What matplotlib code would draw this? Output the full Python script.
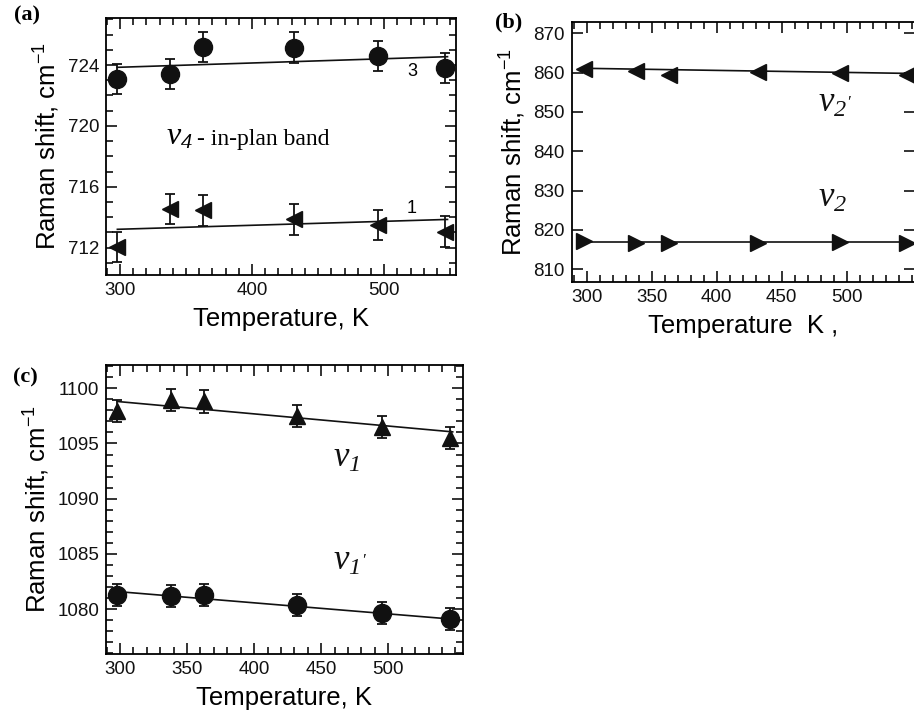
import numpy as np
import matplotlib
matplotlib.use("Agg")
import matplotlib.pyplot as plt
from matplotlib.ticker import MultipleLocator, FixedLocator

plt.rcParams['font.family'] = ['Liberation Sans', 'DejaVu Sans']
plt.rcParams['mathtext.default'] = 'regular'

# temperatures, K
T = [298, 338, 363, 432, 495, 546]

# (a) nu4 in-plane band
a_band3 = [723.1, 723.4, 725.2, 725.15, 724.6, 723.8]
a_band1 = [712.05, 714.55, 714.45, 713.85, 713.5, 713.05]
a_err = 1.0
a_line3 = [723.85, 724.55]
a_line1 = [713.2, 713.85]
line_T = [298, 548]

# (b) nu2 and nu2'
b_nu2p = [861.0, 860.5, 859.5, 860.1, 860.0, 859.3]
b_nu2 = [817.1, 816.8, 816.8, 816.8, 817.0, 816.8]
b_line2p = [861.1, 859.8]
b_line2 = [816.9, 816.9]

# (c) nu1 and nu1'
c_nu1 = [1097.9, 1098.9, 1098.8, 1097.5, 1096.5, 1095.5]
c_nu1p = [1081.3, 1081.2, 1081.3, 1080.4, 1079.7, 1079.1]
c_err = 1.0
c_line1 = [1098.8, 1096.05]
c_line1p = [1081.6, 1079.1]

xt_a = [300, 400, 500]
xt_bc = [300, 350, 400, 450, 500]

col = '#111111'

fig = plt.figure(figsize=(9.14, 7.16), dpi=100)
axa = fig.add_axes([0.116, 0.616, 0.383, 0.359])
axb = fig.add_axes([0.6255, 0.6066, 0.3756, 0.3631])
axc = fig.add_axes([0.116, 0.0866, 0.3903, 0.4036])


def style(ax):
    for s in ax.spines.values():
        s.set_linewidth(1.3)
    ax.tick_params(which='both', direction='in', top=True, right=True,
                   width=1.2, labelsize=13.5, pad=5, colors=col)
    ax.tick_params(which='major', length=8)
    ax.tick_params(which='minor', length=5)
    ax.set_ylabel('Raman shift, cm$^{-1}$', fontsize=18.5, labelpad=4)


eb = dict(ls='none', color=col, ecolor=col, elinewidth=1.3, capsize=3.5,
          capthick=1.3)
serif = ['Liberation Serif', 'DejaVu Serif']
vfont = dict(fontsize=25, va='baseline', color=col, family=serif,
             style='italic')

#%% (a)
axa.plot(line_T, a_line3, color=col, lw=1.2)
axa.plot(line_T, a_line1, color=col, lw=1.2)
axa.errorbar(T, a_band3, yerr=a_err, fmt='o', ms=13, **eb)
axa.errorbar(T, a_band1, yerr=a_err, fmt='<', ms=12, **eb)
axa.set_xlim(289.4, 554.5)
axa.set_ylim(710.2, 727.1)
axa.xaxis.set_major_locator(FixedLocator(xt_a))
axa.xaxis.set_minor_locator(MultipleLocator(10))
axa.yaxis.set_major_locator(MultipleLocator(4))
axa.yaxis.set_minor_locator(MultipleLocator(1))
style(axa)
axa.set_xlabel('Temperature, K', fontsize=18.5, labelpad=6)
axa.text(521, 723.55, '3', fontsize=13, ha='center', va='center')
axa.text(521, 714.6, '1', fontsize=13, ha='center', va='center')
axa.text(335, 718.75, r'$v_4$', fontsize=23, va='baseline', family=serif,
         style='italic')
axa.text(358, 718.75, '- in-plan band', fontsize=17, va='baseline',
         family=serif)

#%% (b)
axb.plot(line_T, b_line2p, color=col, lw=1.2)
axb.plot(line_T, b_line2, color=col, lw=1.2)
axb.plot(T, b_nu2p, '<', ms=12, color=col, clip_on=False)
axb.plot(T, b_nu2, '>', ms=12, color=col, clip_on=False)
axb.set_xlim(288.5, 552.5)
axb.set_ylim(806.85, 872.95)
axb.xaxis.set_major_locator(FixedLocator(xt_bc))
axb.xaxis.set_minor_locator(MultipleLocator(10))
axb.yaxis.set_major_locator(MultipleLocator(10))
style(axb)
axb.set_xlabel('Temperature  K ,', fontsize=18.5, labelpad=6)
axb.text(478, 850.1, r"$v_{2'}$", **vfont)
axb.text(478, 825.9, r'$v_2$', **vfont)

#%% (c)
axc.plot(line_T, c_line1, color=col, lw=1.2)
axc.plot(line_T, c_line1p, color=col, lw=1.2)
axc.errorbar(T, c_nu1, yerr=c_err, fmt='^', ms=11, **eb)
axc.errorbar(T, c_nu1p, yerr=c_err, fmt='o', ms=13, **eb)
axc.set_xlim(289.6, 555.5)
axc.set_ylim(1075.95, 1102.1)
axc.xaxis.set_major_locator(FixedLocator(xt_bc))
axc.xaxis.set_minor_locator(MultipleLocator(10))
axc.yaxis.set_major_locator(MultipleLocator(5))
axc.yaxis.set_minor_locator(MultipleLocator(1))
style(axc)
axc.set_xlabel('Temperature, K', fontsize=18.5, labelpad=6)
axc.text(459, 1092.9, r'$v_1$', **vfont)
axc.text(459, 1083.56, r"$v_{1'}$", **vfont)

# panel letters
for lab, x, y in [('(a)', 14, 15), ('(b)', 495, 22), ('(c)', 13, 377)]:
    fig.text(x / 914, 1 - y / 716, lab, fontsize=16, fontweight='bold',
             family='Liberation Serif', va='center')

fig.savefig('out.png', dpi=100)
